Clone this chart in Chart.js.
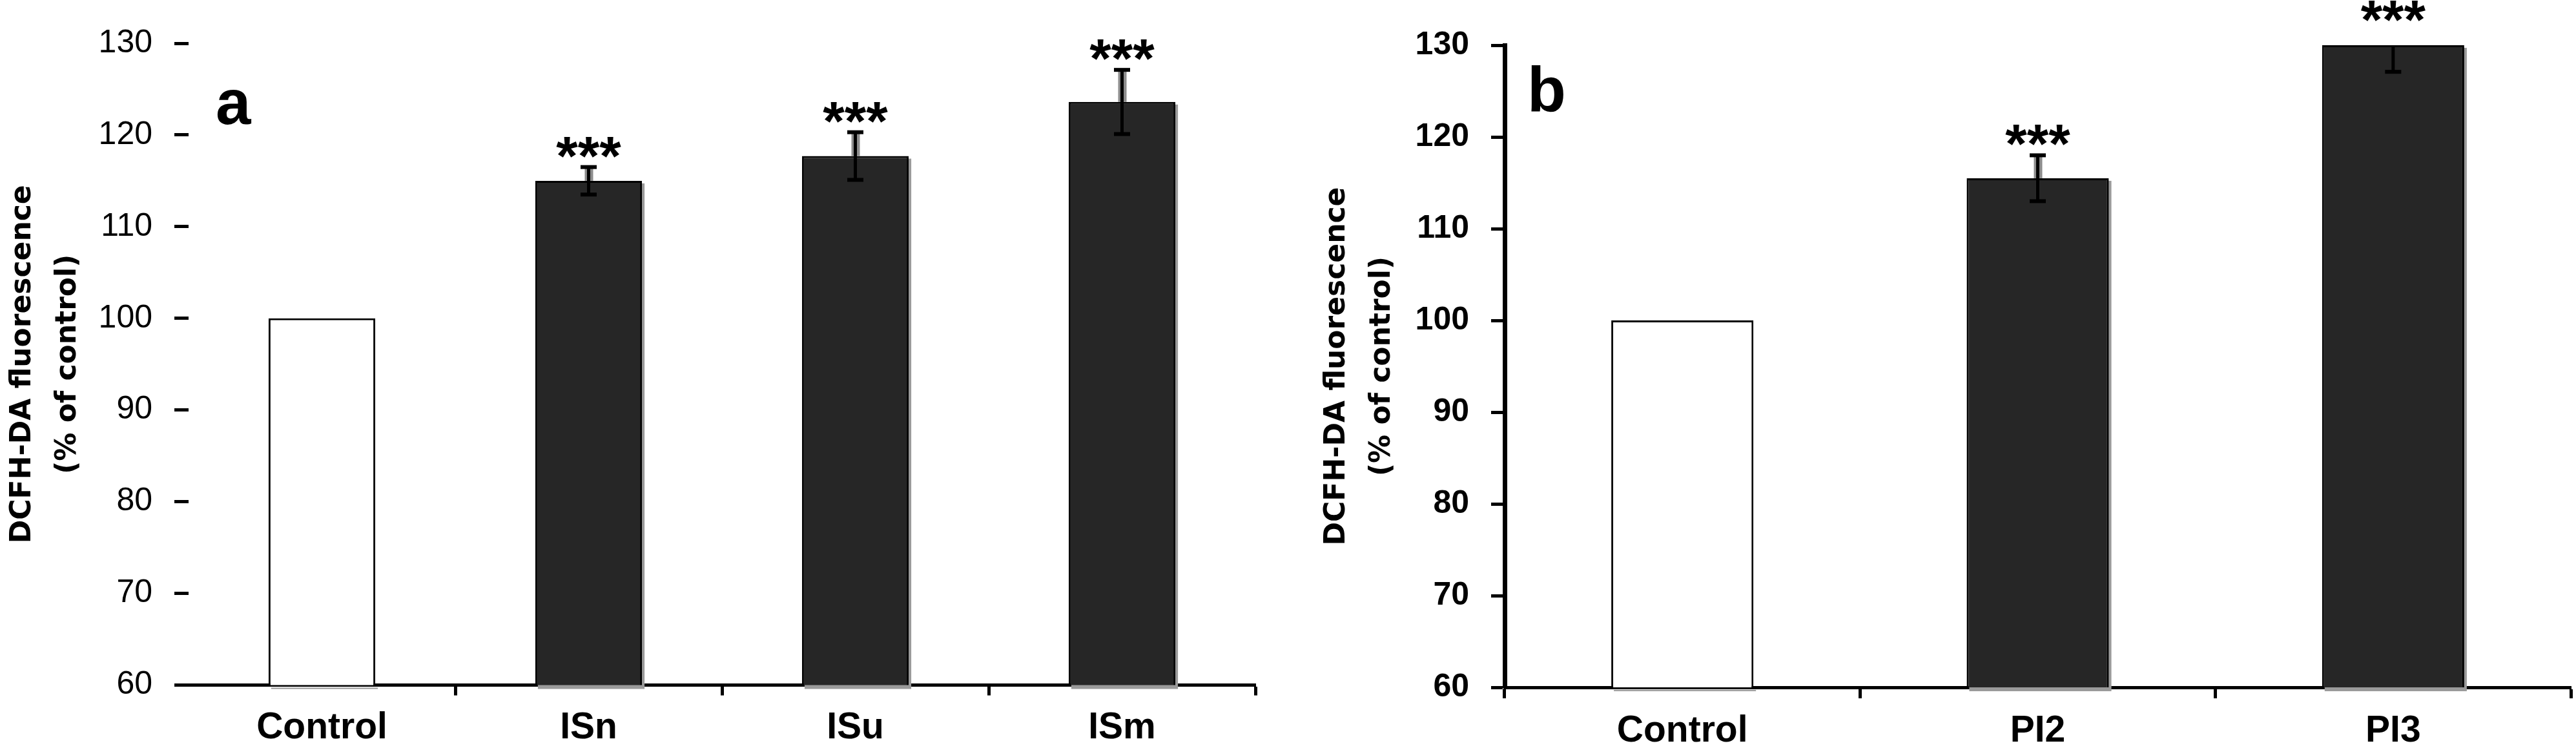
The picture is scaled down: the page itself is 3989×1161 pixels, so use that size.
<!DOCTYPE html>
<html>
<head>
<meta charset="utf-8">
<script src="https://cdn.jsdelivr.net/npm/chart.js@4.4.1/dist/chart.umd.min.js"></script>
<style>
  html, body { margin: 0; padding: 0; background: #fff; overflow: hidden; }
  #wrap { position: relative; width: 3989px; height: 1161px; }
  canvas { position: absolute; top: 0; }
  #chartA { left: 0; }
  #chartB { left: 2000px; }
</style>
</head>
<body>
<div id="wrap">
  <canvas id="chartA" width="1960" height="1161"></canvas>
  <canvas id="chartB" width="1989" height="1161"></canvas>
</div>
<script>
// panel a
const labelsA = ['Control', 'ISn', 'ISu', 'ISm'];
const meansA = [100, 115.0, 117.7, 123.6];
const errsA = [0, 1.5, 2.6, 3.5];
const sigA = ['', '***', '***', '***'];

// panel b
const labelsB = ['Control', 'PI2', 'PI3'];
const meansB = [100, 115.5, 130.0];
const errsB = [0, 2.5, 2.9];
const sigB = ['', '***', '***'];

const yTicks = [60, 70, 80, 90, 100, 110, 120, 130];
const yTitle = ['DCFH-DA fluorescence', '(% of control)'];

const FONT = '"Liberation Sans", Arial, sans-serif';

// grey drop shadow behind the dark bars
const barShadow = {
  id: 'barShadow',
  beforeDatasetDraw(chart, args) {
    if (args.index !== 1) return;
    const ctx = chart.ctx;
    const bottom = chart.chartArea.bottom;
    ctx.save();
    ctx.fillStyle = '#9a9a9a';
    args.meta.data.forEach(el => {
      const p = el.getProps(['x', 'y', 'width'], true);
      if (isNaN(p.y)) return;
      ctx.fillRect(p.x - p.width / 2 + 4, p.y + 4, p.width, bottom - p.y + 2);
    });
    ctx.restore();
  }
};

// error bars + significance stars
const errBars = {
  id: 'errBars',
  afterDatasetsDraw(chart, args, opts) {
    const { ctx, chartArea: ca } = chart;
    const ys = chart.scales.y;
    const pts = [];
    ctx.save();
    ctx.beginPath();
    ctx.rect(ca.left, ca.top, ca.right - ca.left, ca.bottom - ca.top);
    ctx.clip();
    opts.means.forEach((m, i) => {
      const el = chart.getDatasetMeta(i === 0 ? 0 : 1).data[i];
      const e = opts.errs[i];
      const top = ys.getPixelForValue(m + e);
      const bot = ys.getPixelForValue(m - e);
      pts.push({ x: el.x, top });
      if (!e) return;
      ctx.fillStyle = '#8c8c8c';
      ctx.fillRect(el.x - 6, top, 13, el.y - top);
      ctx.fillStyle = '#000';
      ctx.fillRect(el.x - 2.5, top, 5, bot - top);
      ctx.fillRect(el.x - 12.5, top - 3, 25, 6);
      ctx.fillRect(el.x - 12.5, bot - 3, 25, 6);
    });
    ctx.restore();

    ctx.save();
    ctx.fillStyle = '#000';
    ctx.font = 'bold 86px ' + FONT;
    ctx.textAlign = 'center';
    ctx.textBaseline = 'alphabetic';
    opts.sig.forEach((s, i) => {
      if (!s) return;
      const desc = ctx.measureText(s).actualBoundingBoxDescent;
      const bottom = Math.max(pts[i].top - 15, 33);
      ctx.fillText(s, pts[i].x, bottom - desc);
    });
    ctx.restore();
  }
};

// panel letter
const panelLetter = {
  id: 'panelLetter',
  afterDraw(chart, args, opts) {
    const ctx = chart.ctx;
    ctx.save();
    ctx.fillStyle = '#000';
    ctx.font = 'bold 98px ' + FONT;
    ctx.textAlign = 'left';
    ctx.textBaseline = 'alphabetic';
    ctx.fillText(opts.text, opts.x, opts.y);
    ctx.restore();
  }
};

function makeChart(id, labels, means, errs, sig, cfg) {
  return new Chart(document.getElementById(id), {
    type: 'bar',
    data: {
      labels,
      datasets: [
        {
          data: means.map((v, i) => (i === 0 ? v : null)),
          backgroundColor: '#ffffff',
          borderColor: '#000',
          borderWidth: 3
        },
        {
          data: means.map((v, i) => (i === 0 ? null : v)),
          backgroundColor: '#262626',
          borderColor: '#000',
          borderWidth: 3
        }
      ]
    },
    plugins: [barShadow, errBars, panelLetter],
    options: {
      responsive: false,
      animation: false,
      devicePixelRatio: 1,
      grouped: false,
      barPercentage: 0.4,
      categoryPercentage: 1,
      layout: { padding: { top: cfg.top, right: cfg.right, bottom: 0, left: 0 } },
      plugins: {
        legend: { display: false },
        tooltip: { enabled: false },
        errBars: { means, errs, sig },
        panelLetter: cfg.letter
      },
      scales: {
        x: {
          grid: {
            display: true,
            drawOnChartArea: false,
            drawTicks: true,
            offset: true,
            tickLength: cfg.xTick,
            tickWidth: 5,
            color: c => (c.index === 0 && !cfg.firstTick ? 'rgba(0,0,0,0)' : '#000')
          },
          border: { display: true, color: '#000', width: 5 },
          ticks: {
            color: '#000',
            padding: 17,
            autoSkip: false,
            maxRotation: 0,
            font: { family: FONT, size: 57, weight: 'bold' }
          },
          afterFit: s => { s.height = cfg.xHeight; }
        },
        y: {
          min: yTicks[0],
          max: yTicks[yTicks.length - 1],
          ticks: {
            stepSize: yTicks[1] - yTicks[0],
            color: '#000',
            padding: cfg.yPad,
            font: { family: FONT, size: 50, weight: cfg.yWeight }
          },
          grid: {
            drawOnChartArea: false,
            drawTicks: true,
            tickLength: cfg.yTick,
            tickWidth: 5,
            color: '#000'
          },
          border: { display: cfg.yBorder, color: '#000', width: 7 },
          title: {
            display: true,
            text: yTitle,
            color: '#000',
            font: { family: '"DejaVu Sans", Verdana, sans-serif', size: 44, weight: 'bold', lineHeight: 1.6 },
            padding: { top: cfg.titlePad, bottom: 0 }
          },
          afterFit: s => { s.width = cfg.yWidth; }
        }
      }
    }
  });
}

makeChart('chartA', labelsA, meansA, errsA, sigA, {
  top: 67, right: 16, xHeight: 100.5, xTick: 16,
  yWidth: 292, yTick: 22, yPad: 34, yBorder: false, yWeight: 'normal',
  titlePad: 0, firstTick: false,
  letter: { text: 'a', x: 334, y: 192 }
});

makeChart('chartB', labelsB, meansB, errsB, sigB, {
  top: 70, right: 8, xHeight: 97, xTick: 17,
  yWidth: 330, yTick: 21, yPad: 34, yBorder: true, yWeight: 'bold',
  titlePad: 35, firstTick: true,
  letter: { text: 'b', x: 365, y: 172 }
});
</script>
</body>
</html>
